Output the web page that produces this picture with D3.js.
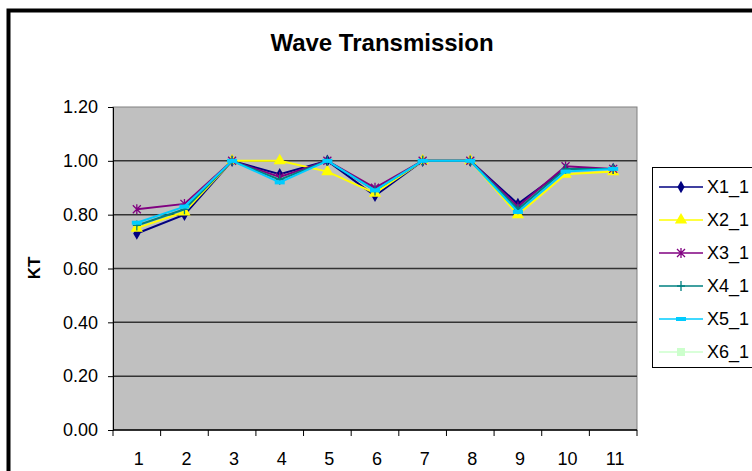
<!DOCTYPE html>
<html>
<head>
<meta charset="utf-8">
<script src="https://cdn.jsdelivr.net/npm/d3@7"></script>
<style>
  body { margin: 0; background: #fff; }
  text { font-family: "Liberation Sans", Arial, sans-serif; }
</style>
</head>
<body>
<svg id="chart"></svg>
<script>
// Data
const categories = ["1", "2", "3", "4", "5", "6", "7", "8", "9", "10", "11"];
const yTicks = [0, 0.2, 0.4, 0.6, 0.8, 1.0, 1.2];
const seriesNames = ["X1_1", "X2_1", "X3_1", "X4_1", "X5_1", "X6_1"];
const x1 = [0.73, 0.80, 1.00, 0.95, 1.00, 0.87, 1.00, 1.00, 0.84, 0.97, 0.97];
const x2 = [0.75, 0.81, 1.00, 1.00, 0.96, 0.88, 1.00, 1.00, 0.80, 0.95, 0.96];
const x3 = [0.82, 0.84, 1.00, 0.94, 1.00, 0.90, 1.00, 1.00, 0.83, 0.98, 0.97];
const x4 = [0.76, 0.82, 1.00, 0.93, 1.00, 0.89, 1.00, 1.00, 0.82, 0.97, 0.97];
const x5 = [0.77, 0.83, 1.00, 0.92, 1.00, 0.89, 1.00, 1.00, 0.81, 0.96, 0.97];
const x6 = []; // in legend only, no visible points
const seriesValues = [x1, x2, x3, x4, x5, x6];
const seriesColors = ["#000080", "#ffff00", "#800080", "#008080", "#00ccff", "#ccffcc"];
const seriesMarkers = ["diamond", "triangle", "star", "vbar", "hbar", "square"];

// Dimensions
const width = 752;
const height = 471;
const plot = { left: 113, right: 637, top: 107, bottom: 430 };

const svg = d3.select("#chart").attr("width", width).attr("height", height);

// Scales
const x = d3.scaleBand().domain(categories).range([plot.left, plot.right]);
const y = d3.scaleLinear().domain([0, 1.2]).range([plot.bottom, plot.top]);

// Outer frame
svg.append("rect")
  .attr("x", 8.5).attr("y", 10.5)
  .attr("width", 800).attr("height", 500)
  .attr("fill", "#fff").attr("stroke", "#000").attr("stroke-width", 4);

// Title
svg.append("text")
  .attr("x", 382).attr("y", 51)
  .attr("text-anchor", "middle")
  .attr("font-size", 24).attr("font-weight", "bold")
  .text("Wave Transmission");

// Plot background
svg.append("rect")
  .attr("x", plot.left).attr("y", plot.top)
  .attr("width", plot.right - plot.left).attr("height", plot.bottom - plot.top)
  .attr("fill", "#c0c0c0").attr("stroke", "#808080");

// Gridlines
svg.append("g")
  .selectAll("line")
  .data(yTicks.filter((d) => d > 0 && d < 1.2))
  .enter()
  .append("line")
  .attr("x1", plot.left).attr("x2", plot.right)
  .attr("y1", (d) => y(d)).attr("y2", (d) => y(d))
  .attr("stroke", "#333").attr("stroke-width", 1.5);

// Y axis
const yAxis = svg.append("g")
  .attr("transform", `translate(${plot.left},0)`)
  .call(d3.axisLeft(y).tickValues(yTicks).tickFormat(d3.format(".2f")).tickSizeOuter(0).tickSize(5).tickPadding(10));
yAxis.select(".domain").attr("stroke", "#000");
yAxis.selectAll("text").attr("font-size", 18).attr("fill", "#000")
  .attr("font-family", "Liberation Sans, Arial, sans-serif");

// X axis (ticks at category boundaries)
const xg = svg.append("g");
xg.append("line")
  .attr("x1", plot.left).attr("x2", plot.right)
  .attr("y1", plot.bottom).attr("y2", plot.bottom)
  .attr("stroke", "#000").attr("stroke-width", 1.5);
xg.selectAll(".xtick")
  .data(categories.concat(["end"]))
  .enter()
  .append("line")
  .attr("x1", (d, i) => plot.left + i * x.bandwidth())
  .attr("x2", (d, i) => plot.left + i * x.bandwidth())
  .attr("y1", plot.bottom).attr("y2", plot.bottom + 6)
  .attr("stroke", "#000");
xg.selectAll(".xlabel")
  .data(categories)
  .enter()
  .append("text")
  .attr("x", (d) => x(d) + x.bandwidth() / 2 + 2)
  .attr("y", 465)
  .attr("text-anchor", "middle")
  .attr("font-size", 18)
  .text((d) => d);

// Y label
svg.append("text")
  .attr("transform", "translate(40,268) rotate(-90)")
  .attr("text-anchor", "middle")
  .attr("font-size", 17).attr("font-weight", "bold")
  .text("KT");

// Marker drawing
function drawMarker(g, type, color) {
  if (type === "diamond") {
    g.append("path").attr("d", d3.symbol(d3.symbolDiamond, 45)()).attr("fill", color);
  } else if (type === "triangle") {
    g.append("path").attr("d", d3.symbol(d3.symbolTriangle, 65)()).attr("fill", color);
  } else if (type === "star") {
    g.append("path").attr("d", "M-4,-4L4,4M-4,4L4,-4M0,-5V5").attr("stroke", color).attr("stroke-width", 1.3).attr("fill", "none");
  } else if (type === "vbar") {
    g.append("path").attr("d", "M0,-5V5M-4,0H4").attr("stroke", color).attr("stroke-width", 1.3);
  } else if (type === "hbar") {
    g.append("rect").attr("x", -5).attr("y", -2).attr("width", 10).attr("height", 4).attr("fill", color);
  } else if (type === "square") {
    g.append("rect").attr("x", -4).attr("y", -4).attr("width", 8).attr("height", 8).attr("fill", color);
  }
}

// Lines & markers
const line = d3.line()
  .x((d, i) => x(categories[i]) + x.bandwidth() / 2)
  .y((d) => y(d));

seriesValues.forEach((vals, s) => {
  const g = svg.append("g");
  g.append("path")
    .datum(vals)
    .attr("d", vals.length ? line(vals) : null)
    .attr("fill", "none")
    .attr("stroke", seriesColors[s])
    .attr("stroke-width", 2);
  vals.forEach((v, i) => {
    const m = g.append("g")
      .attr("transform", `translate(${x(categories[i]) + x.bandwidth() / 2},${y(v)})`);
    drawMarker(m, seriesMarkers[s], seriesColors[s]);
  });
});

// Legend
const legend = svg.append("g");
legend.append("rect")
  .attr("x", 652.5).attr("y", 167.5)
  .attr("width", 120).attr("height", 200)
  .attr("fill", "#fff").attr("stroke", "#000");
seriesNames.forEach((name, i) => {
  const ly = 187 + i * 33;
  legend.append("line")
    .attr("x1", 659).attr("x2", 703).attr("y1", ly).attr("y2", ly)
    .attr("stroke", seriesColors[i]).attr("stroke-width", 1.5);
  const m = legend.append("g").attr("transform", `translate(681,${ly})`);
  drawMarker(m, seriesMarkers[i], seriesColors[i]);
  legend.append("text")
    .attr("x", 707).attr("y", ly + 6)
    .attr("font-size", 18)
    .text(name);
});
</script>
</body>
</html>
